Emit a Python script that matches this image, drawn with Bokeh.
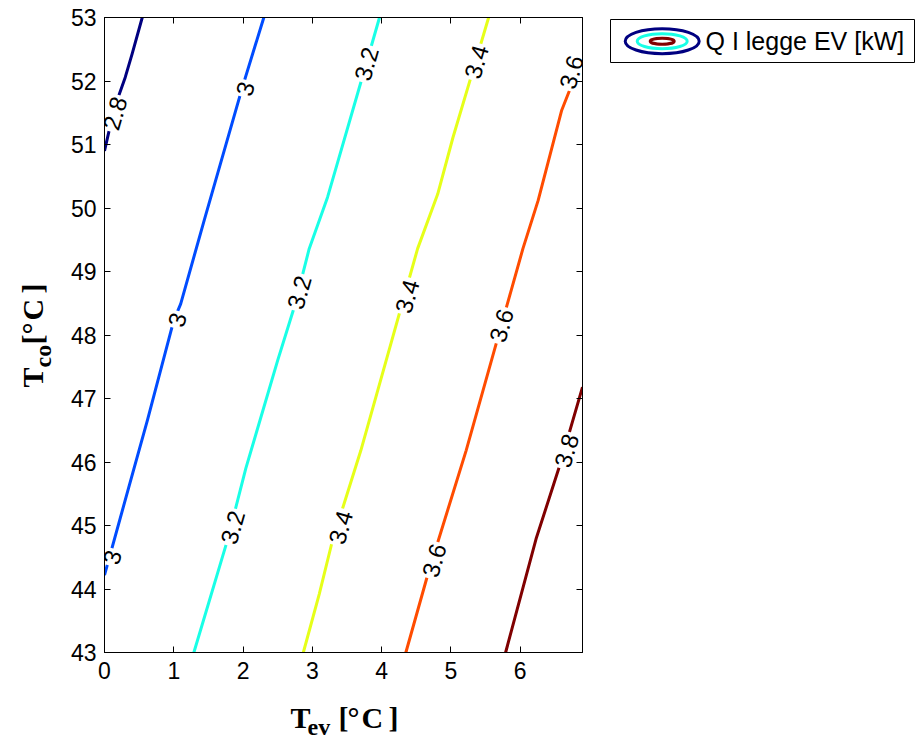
import math
from bokeh.plotting import figure
from bokeh.models import Range1d, FixedTicker, LinearAxis
from bokeh.layouts import row, column
from bokeh.embed import file_html
from bokeh.resources import INLINE
from bokeh.core.properties import value

# ---------------- data ----------------
levels = [2.8, 3.0, 3.2, 3.4, 3.6, 3.8]

tev_28 = [0.00, 0.09, 0.18, 0.30, 0.40, 0.545]
tco_28 = [50.90, 51.33, 51.69, 52.06, 52.43, 53.00]

tev_30 = [0.00, 0.35, 0.62, 1.00, 1.10, 1.44, 1.99, 2.30]
tco_30 = [44.22, 45.60, 46.66, 48.23, 48.49, 49.81, 51.90, 53.00]

tev_32 = [1.29, 1.775, 2.04, 2.50, 2.74, 2.955, 3.22, 3.73, 3.97]
tco_32 = [43.00, 44.77, 45.90, 47.60, 48.44, 49.36, 50.17, 52.09, 53.00]

tev_34 = [2.87, 3.10, 3.29, 3.70, 4.52, 4.81, 5.03, 5.29, 5.545]
tco_34 = [43.00, 43.92, 44.76, 46.18, 49.36, 50.22, 51.11, 52.06, 53.00]

tev_36 = [4.35, 4.67, 5.22, 6.04, 6.26, 6.60, 6.90]
tco_36 = [43.00, 44.24, 46.18, 49.36, 50.12, 51.54, 52.37]

tev_38 = [5.79, 6.23, 6.57, 6.90]
tco_38 = [43.00, 44.79, 45.94, 47.18]

lab_tev = [0.15, 2.03, 1.05, 0.11, 3.78, 2.81, 1.85, 5.37, 4.37, 3.41, 6.74, 5.73, 4.76, 6.67]
lab_tco = [51.49, 51.88, 48.24, 44.50, 52.27, 48.67, 44.97, 52.30, 48.61, 44.97, 52.14, 48.15, 44.45, 46.18]
lab_txt = ["2.8", "3", "3", "3", "3.2", "3.2", "3.2", "3.4", "3.4", "3.4", "3.6", "3.6", "3.6", "3.8"]

x_ticks = [0, 1, 2, 3, 4, 5, 6]
y_ticks = [43, 44, 45, 46, 47, 48, 49, 50, 51, 52, 53]
x_lim = (0, 6.9)
y_lim = (43, 53)

legend_label = "Q I legge EV [kW]"
x_title = ["T", "ev", "[", "°", "C", "]"]
y_title = ["T", "co", "[", "°", "C", "]"]

# ---------------- styles ----------------
jet = ["#000080", "#004CFF", "#19FFE6", "#E6FF19", "#FF4C00", "#800000"]
SANS = "Liberation Sans"
SERIF = "Liberation Serif"
FS = "23px"
TITLE_FS = ["30px", "24px", "30px", "30px", "30px", "30px"]
TOP_H = 688
B_TOP, B_BOT = 17, 36          # frame borders shared by the top row
YT_W = 60
P_W = 528
LEG_W = 329
TOT_W = YT_W + P_W + LEG_W
XT_H = 50


def strip(w, h, top, bot):
    # page-pixel coordinates inside the frame (y grows downward)
    f = figure(width=w, height=h, x_range=Range1d(0, w), y_range=Range1d(h - bot, top),
               title=None, toolbar_location=None, output_backend="svg",
               x_axis_location=None, y_axis_location=None,
               min_border_left=0, min_border_right=0,
               min_border_top=top, min_border_bottom=bot)
    f.grid.visible = False
    f.outline_line_color = None
    f.background_fill_color = "white"
    f.border_fill_color = "white"
    return f


# ---------------- main contour plot ----------------
p = figure(width=P_W, height=TOP_H, x_range=Range1d(*x_lim), y_range=Range1d(*y_lim),
           title=None, toolbar_location=None, output_backend="svg",
           min_border_left=44, min_border_right=6, min_border_top=B_TOP, min_border_bottom=B_BOT)
p.grid.visible = False
p.outline_line_color = "black"
p.background_fill_color = "white"
p.border_fill_color = "white"

for ax, tk in ((p.xaxis[0], x_ticks), (p.yaxis[0], y_ticks)):
    ax.ticker = FixedTicker(ticks=tk)
    ax.major_tick_in = 6
    ax.major_tick_out = 0
    ax.minor_tick_line_color = None
    ax.axis_line_color = "black"
    ax.major_tick_line_color = "black"
    ax.major_label_text_font = SANS
    ax.major_label_text_font_size = FS
    ax.major_label_text_color = "black"
p.xaxis[0].major_label_standoff = 9
p.yaxis[0].major_label_standoff = 8

for loc, tk in (("above", x_ticks), ("right", y_ticks)):
    ax = LinearAxis(ticker=FixedTicker(ticks=tk), major_tick_in=6, major_tick_out=0,
                    minor_tick_line_color=None, major_label_text_color=None,
                    major_label_text_font_size="0px", major_label_standoff=0,
                    axis_line_color="black", major_tick_line_color="black")
    p.add_layout(ax, loc)

series = [(tev_28, tco_28), (tev_30, tco_30), (tev_32, tco_32),
          (tev_34, tco_34), (tev_36, tco_36), (tev_38, tco_38)]
for (xs, ys), col in zip(series, jet):
    p.line(xs, ys, line_color=col, line_width=3, line_join="round")

p.text(x=lab_tev, y=lab_tco, text=lab_txt, angle=1.29,
       text_align="center", text_baseline="middle",
       text_font=value(SANS), text_font_size="24px", text_color="black",
       background_fill_color="white", padding=2)

# ---------------- y title strip (left) ----------------
yt = strip(YT_W, TOP_H, B_TOP, B_BOT)
yt.text(x=[32, 42.5, 32, 32, 32, 32], y=[387, 367, 344, 334, 320, 293],
        text=y_title, angle=math.pi / 2, text_align="left", text_baseline="alphabetic",
        text_font=value(SERIF), text_font_style="bold", text_font_size=TITLE_FS,
        text_color="black")

# ---------------- legend strip (right) ----------------
leg = strip(LEG_W, TOP_H, B_TOP, B_BOT)
leg.quad(left=[22], right=[326], top=[19], bottom=[62], fill_color="white",
         line_color="black", line_width=1)
leg.ellipse(x=[73.7] * 3, y=[40.7] * 3, width=[74, 50, 24], height=[25, 15, 6],
            fill_color=None, line_color=[jet[0], jet[2], jet[5]], line_width=3)
leg.text(x=[117], y=[40.7], text=[legend_label], text_baseline="middle",
         text_align="left", text_font=value(SANS), text_font_size="25px",
         text_color="black")

# ---------------- x title strip (bottom) ----------------
xt = strip(TOT_W, XT_H, 0, 0)
xt.text(x=[290, 307, 338, 347, 361, 388], y=[29.3, 38.5, 29.3, 29.3, 29.3, 29.3],
        text=x_title, text_align="left", text_baseline="alphabetic",
        text_font=value(SERIF), text_font_style="bold", text_font_size=TITLE_FS,
        text_color="black")

layout = column(row(yt, p, leg), xt)
open("out.html", "w").write(file_html(layout, INLINE))
